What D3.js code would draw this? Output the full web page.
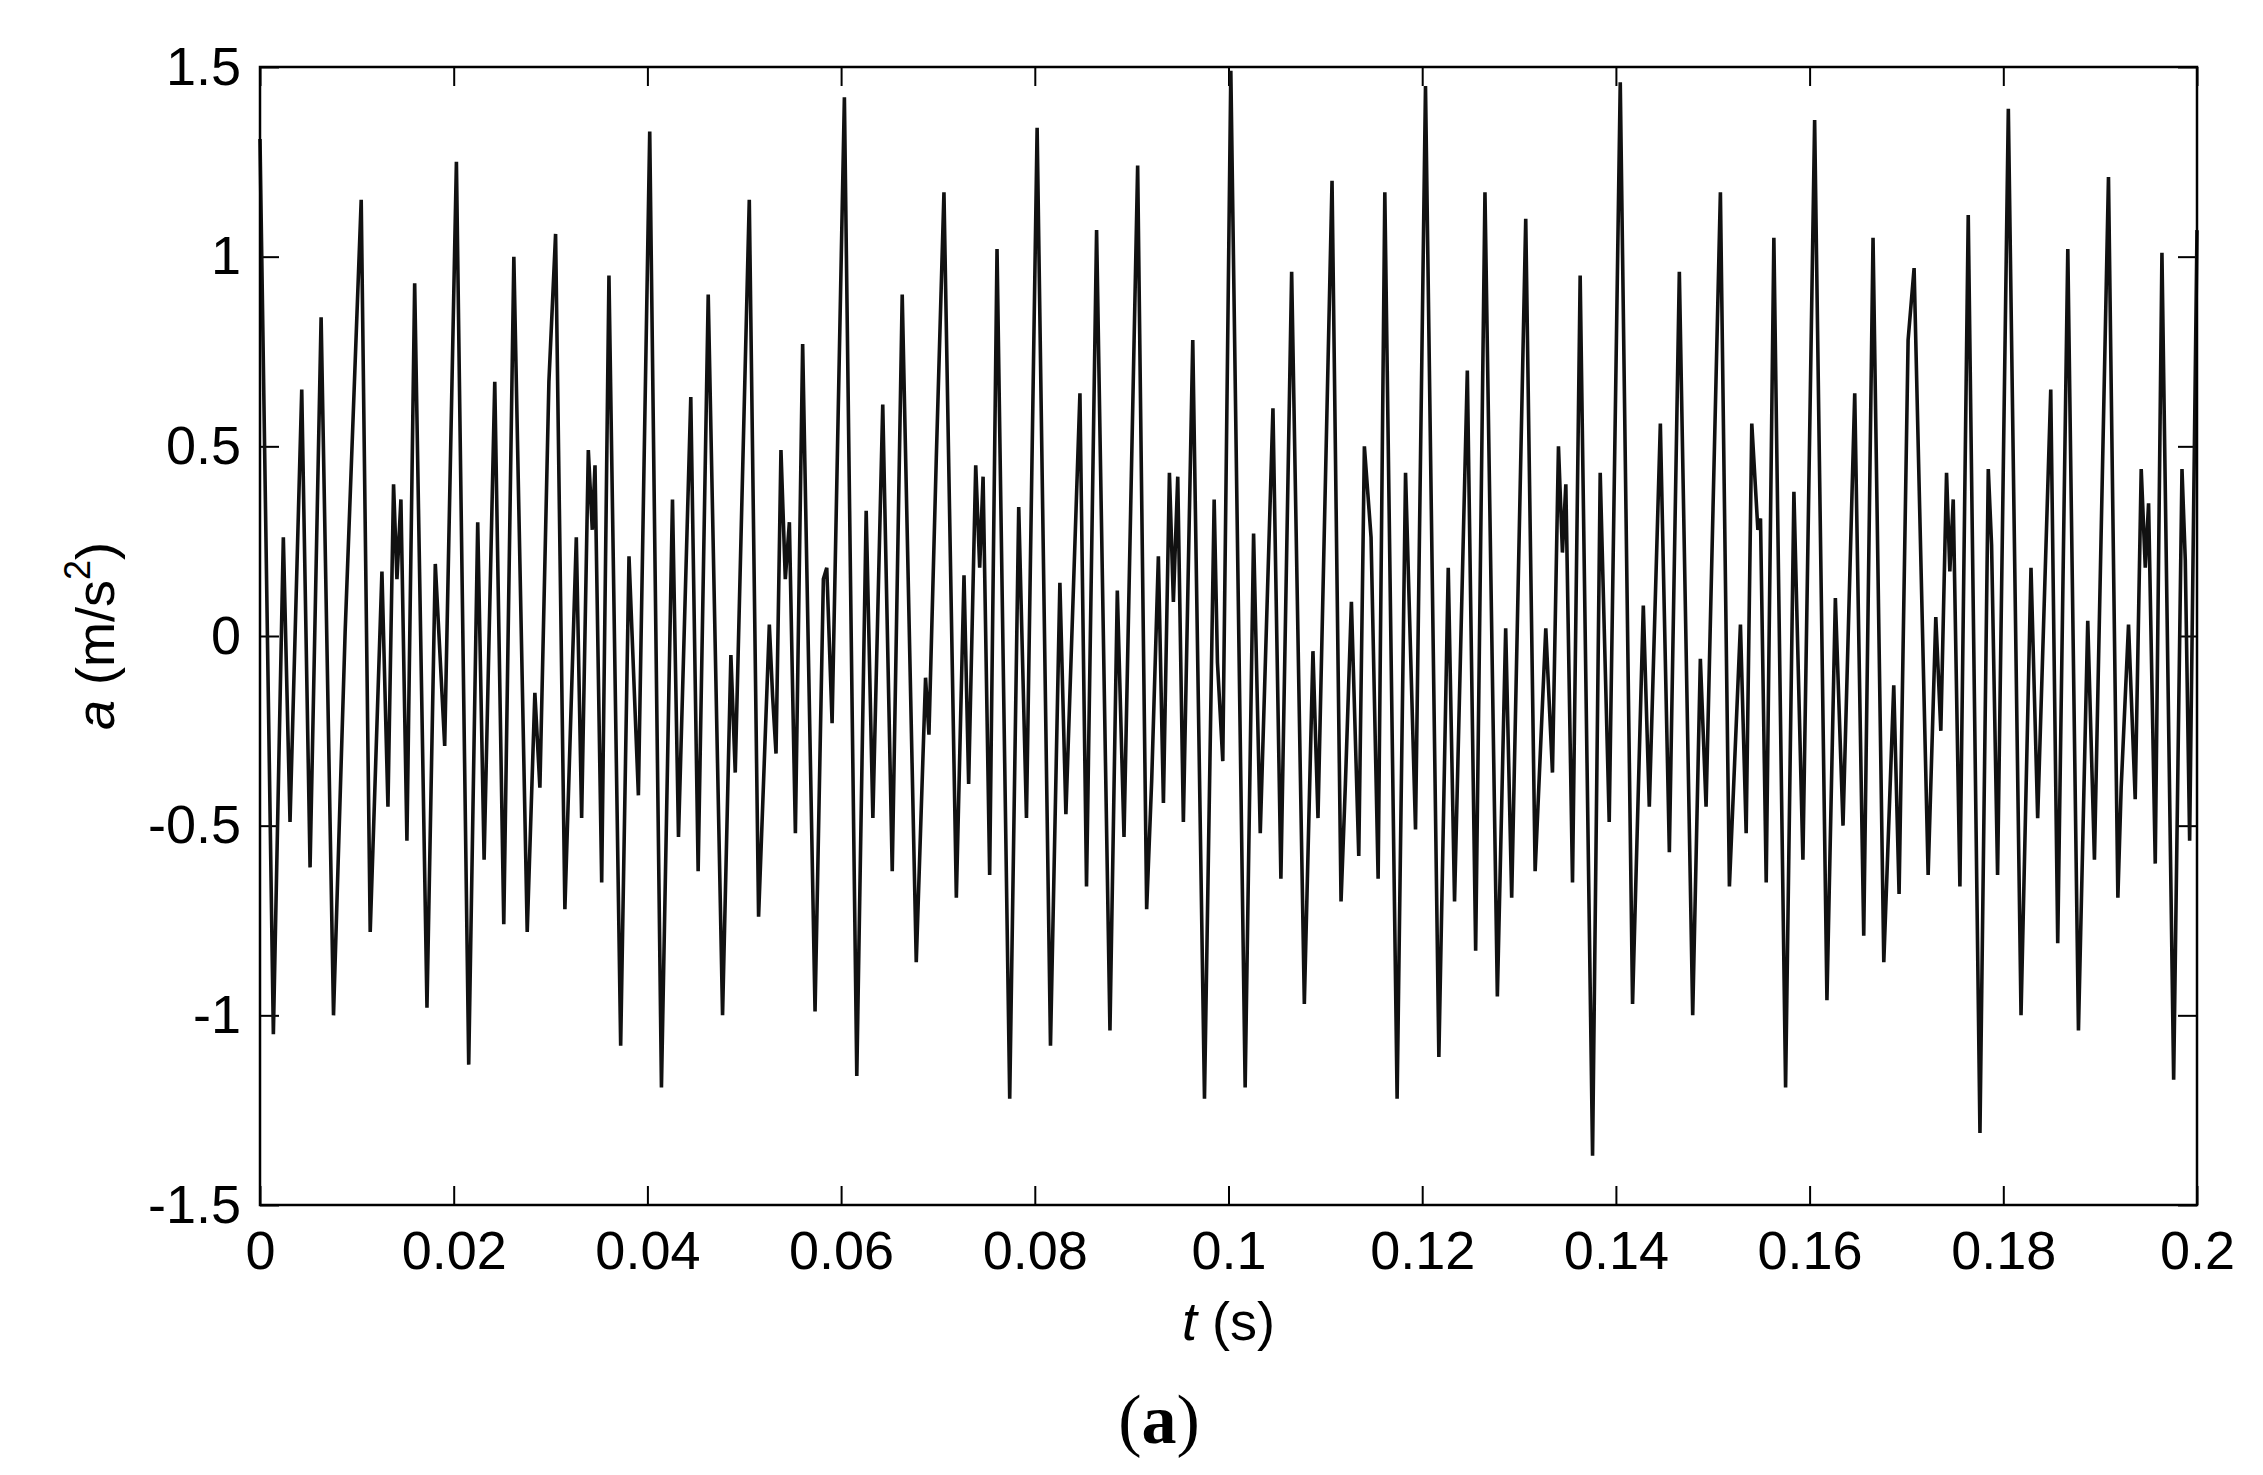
<!DOCTYPE html>
<html>
<head>
<meta charset="utf-8">
<script src="https://cdn.jsdelivr.net/npm/d3@7"></script>
<style>
  body { margin: 0; background: #fff; }
  svg { display: block; }
</style>
</head>
<body>
<svg id="chart"></svg>
<script>
// tick labels
const xTicks = [0, 0.02, 0.04, 0.06, 0.08, 0.1, 0.12, 0.14, 0.16, 0.18, 0.2];
const yTicks = [-1.5, -1, -0.5, 0, 0.5, 1, 1.5];

// acceleration trace, [t (s), a (m/s^2)] turning points
const seg1 = [
  [0, 1.31], [0.00138, -1.05], [0.00241, 0.26], [0.0031, -0.49], [0.00431, 0.65], [0.00517, -0.61],
  [0.00631, 0.84], [0.00759, -1.0], [0.00879, 0.01], [0.01045, 1.15], [0.01138, -0.78], [0.01259, 0.17],
  [0.01321, -0.45], [0.01379, 0.40], [0.01414, 0.15], [0.01455, 0.36], [0.01517, -0.54], [0.01597, 0.93],
  [0.01724, -0.98], [0.0181, 0.19], [0.01907, -0.29], [0.02028, 1.25], [0.02155, -1.13], [0.02248, 0.30],
  [0.02314, -0.59], [0.02424, 0.67], [0.02517, -0.76], [0.02621, 1.0], [0.02759, -0.78], [0.02838, -0.15],
  [0.0289, -0.40], [0.02983, 0.67], [0.03052, 1.06], [0.03148, -0.72], [0.03266, 0.26], [0.03321, -0.48],
  [0.0339, 0.49], [0.03431, 0.28], [0.03459, 0.45], [0.03528, -0.65], [0.03603, 0.95], [0.03724, -1.08],
  [0.0381, 0.21], [0.03907, -0.42], [0.04024, 1.33], [0.04145, -1.19], [0.04259, 0.36], [0.04321, -0.53],
  [0.04448, 0.63], [0.04524, -0.62], [0.04628, 0.90], [0.04776, -1.0], [0.04862, -0.05], [0.04907, -0.36]
];
const seg2 = [
  [0.05052, 1.15], [0.05148, -0.74], [0.05259, 0.03], [0.05293, -0.16], [0.05328, -0.31], [0.05379, 0.49],
  [0.05424, 0.15], [0.05466, 0.30], [0.05528, -0.52], [0.05603, 0.77], [0.05731, -0.99], [0.05817, 0.15],
  [0.05852, 0.18], [0.05907, -0.23], [0.06034, 1.42], [0.06162, -1.16], [0.06259, 0.33], [0.06328, -0.48],
  [0.0643, 0.61], [0.06528, -0.62], [0.06631, 0.90], [0.06776, -0.86], [0.06872, -0.11], [0.06907, -0.26],
  [0.06983, 0.47], [0.07062, 1.17], [0.0719, -0.69], [0.07269, 0.16], [0.07317, -0.39], [0.0739, 0.45],
  [0.07431, 0.18], [0.07466, 0.42], [0.07534, -0.63], [0.0761, 1.02], [0.07741, -1.22], [0.07834, 0.34],
  [0.07914, -0.48], [0.08024, 1.34], [0.08162, -1.08], [0.08259, 0.14], [0.08321, -0.47], [0.08466, 0.64],
  [0.08534, -0.66], [0.08638, 1.07], [0.08776, -1.04], [0.08852, 0.12], [0.08921, -0.53], [0.09062, 1.24],
  [0.09155, -0.72], [0.09207, -0.38], [0.09276, 0.21], [0.09328, -0.44], [0.0939, 0.43], [0.09431, 0.09],
  [0.09476, 0.42], [0.09534, -0.49], [0.09631, 0.78], [0.09752, -1.22], [0.09852, 0.36], [0.09886, -0.07],
  [0.09941, -0.33]
];
const seg3 = [
  [0.10024, 1.49], [0.10172, -1.19], [0.10259, 0.27], [0.10328, -0.52], [0.10459, 0.60], [0.10541, -0.64],
  [0.10652, 0.96], [0.10783, -0.97], [0.10872, -0.04], [0.10924, -0.48], [0.11069, 1.20], [0.11162, -0.70],
  [0.11207, -0.39], [0.11269, 0.09], [0.11345, -0.58], [0.11403, 0.50], [0.11472, 0.26], [0.11545, -0.64],
  [0.11614, 1.17], [0.11741, -1.22], [0.11828, 0.43], [0.11931, -0.51], [0.12034, 1.45], [0.12172, -1.11],
  [0.12269, 0.18], [0.12334, -0.70], [0.12466, 0.70], [0.12552, -0.83], [0.12648, 1.17], [0.12776, -0.95],
  [0.12862, 0.02], [0.12924, -0.69], [0.13069, 1.10], [0.13166, -0.62], [0.13276, 0.02], [0.13345, -0.36],
  [0.13407, 0.50], [0.13448, 0.22], [0.13483, 0.40], [0.13552, -0.65], [0.13631, 0.95], [0.13759, -1.37],
  [0.13838, 0.43], [0.13931, -0.49], [0.14045, 1.46], [0.14172, -0.97], [0.14283, 0.08], [0.14345, -0.45],
  [0.14459, 0.56], [0.14552, -0.57], [0.14655, 0.96], [0.14793, -1.0], [0.14872, -0.06], [0.14931, -0.45]
];
const seg4 = [
  [0.15079, 1.17], [0.15172, -0.66], [0.15286, 0.03], [0.15345, -0.52], [0.15403, 0.56], [0.15466, 0.28],
  [0.15493, 0.31], [0.15552, -0.65], [0.15631, 1.05], [0.15752, -1.19], [0.15838, 0.38], [0.15931, -0.59],
  [0.16052, 1.36], [0.16179, -0.96], [0.16266, 0.10], [0.16345, -0.50], [0.16466, 0.64], [0.16559, -0.79],
  [0.16655, 1.05], [0.16766, -0.86], [0.16869, -0.13], [0.16924, -0.68], [0.17017, 0.78], [0.17079, 0.97],
  [0.17224, -0.63], [0.17303, 0.05], [0.17355, -0.25], [0.17414, 0.43], [0.17448, 0.17], [0.17483, 0.36],
  [0.17552, -0.66], [0.17638, 1.11], [0.17759, -1.31], [0.17845, 0.44], [0.17879, 0.24], [0.17941, -0.63],
  [0.18052, 1.39], [0.18183, -1.0], [0.18286, 0.18], [0.18355, -0.48], [0.1849, 0.65], [0.18562, -0.81],
  [0.18666, 1.02], [0.18776, -1.04], [0.18872, 0.04], [0.18941, -0.59], [0.19086, 1.21], [0.19183, -0.69],
  [0.19217, -0.40], [0.19293, 0.03], [0.19362, -0.43], [0.19424, 0.44], [0.19466, 0.18], [0.195, 0.35],
  [0.19569, -0.60], [0.19638, 1.01], [0.19759, -1.17], [0.19845, 0.44], [0.19879, 0.20], [0.19924, -0.54],
  [0.2, 1.07]
];

const width = 2263;
const height = 1475;
const plot = { left: 260, right: 2197, top: 67, bottom: 1205 };
const tickLen = 19;
const font = 'Arial, "Liberation Sans", Helvetica, sans-serif';

const svg = d3.select('#chart').attr('width', width).attr('height', height)
  .attr('viewBox', `0 0 ${width} ${height}`);
svg.append('rect').attr('width', width).attr('height', height).attr('fill', '#fff');

const x = d3.scaleLinear([0, 0.2], [plot.left, plot.right]);
const y = d3.scaleLinear([-1.5, 1.5], [plot.bottom, plot.top]);
const fmt = (d) => String(d);

function styleAxis(g, showText) {
  g.select('.domain').remove();
  g.selectAll('.tick line').attr('stroke', '#000').attr('stroke-width', 2);
  g.selectAll('.tick text').attr('fill', '#000').style('font-family', font).style('font-size', '54px');
  if (!showText) g.selectAll('.tick text').remove();
}

svg.append('g').attr('transform', `translate(0,${plot.bottom})`)
  .call(d3.axisBottom(x).tickValues(xTicks).tickFormat(fmt).tickSize(-tickLen).tickPadding(26))
  .call((g) => styleAxis(g, true));
svg.append('g').attr('transform', `translate(0,${plot.top})`)
  .call(d3.axisTop(x).tickValues(xTicks).tickSize(-tickLen))
  .call((g) => styleAxis(g, false));
svg.append('g').attr('transform', `translate(${plot.left},0)`)
  .call(d3.axisLeft(y).tickValues(yTicks).tickFormat(fmt).tickSize(-tickLen).tickPadding(19))
  .call((g) => styleAxis(g, true));
svg.append('g').attr('transform', `translate(${plot.right},0)`)
  .call(d3.axisRight(y).tickValues(yTicks).tickSize(-tickLen))
  .call((g) => styleAxis(g, false));

// signal
const series = seg1.concat(seg2, seg3, seg4);
const line = d3.line().x((d) => x(d[0])).y((d) => y(d[1]));
svg.append('path').datum(series).attr('d', line)
  .attr('fill', 'none').attr('stroke', '#111').attr('stroke-width', 3.6).attr('stroke-linejoin', 'miter');

// frame
svg.append('rect').attr('x', plot.left).attr('y', plot.top)
  .attr('width', plot.right - plot.left).attr('height', plot.bottom - plot.top)
  .attr('fill', 'none').attr('stroke', '#000').attr('stroke-width', 2.5);

// axis titles
const yl = svg.append('text').attr('transform', `translate(114,${(plot.top + plot.bottom) / 2}) rotate(-90)`)
  .attr('text-anchor', 'middle').style('font-family', font).style('font-size', '54px').attr('fill', '#000');
yl.append('tspan').style('font-style', 'italic').text('a');
yl.append('tspan').text(' (m/s');
yl.append('tspan').attr('dy', -24).style('font-size', '36px').text('2');
yl.append('tspan').attr('dy', 24).text(')');

const xl = svg.append('text').attr('x', (plot.left + plot.right) / 2).attr('y', 1340)
  .attr('text-anchor', 'middle').style('font-family', font).style('font-size', '54px').attr('fill', '#000');
xl.append('tspan').style('font-style', 'italic').text('t');
xl.append('tspan').text(' (s)');

const cap = svg.append('text').attr('x', 1159).attr('y', 1443).attr('text-anchor', 'middle')
  .style('font-family', '"Liberation Serif", "Times New Roman", serif').style('font-size', '70px').attr('fill', '#000');
cap.append('tspan').text('(');
cap.append('tspan').style('font-weight', 'bold').text('a');
cap.append('tspan').text(')');
</script>
</body>
</html>
